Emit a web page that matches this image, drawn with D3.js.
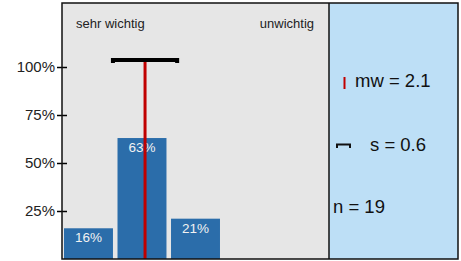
<!DOCTYPE html>
<html>
<head>
<meta charset="utf-8">
<script src="https://cdn.jsdelivr.net/npm/d3@7"></script>
<style>
body { margin: 0; background: #fff; }
svg { display: block; font-family: "Liberation Sans", Arial, sans-serif; }
</style>
</head>
<body>
<svg id="chart"></svg>
<script>
var width = 461, height = 261;

// data
var categories = [1, 2, 3, 4, 5];
var percents = [16, 63, 21, 0, 0];
var yTicks = [25, 50, 75, 100];
var scaleLabels = ["sehr wichtig", "unwichtig"];
var mw = 2.1, sd = 0.6, n = 19;

var panel = {left: 62, right: 329, top: 3, bottom: 259};

var svg = d3.select("#chart").attr("width", width).attr("height", height);

// background panels
svg.append("rect")
    .attr("x", panel.left).attr("y", panel.top)
    .attr("width", panel.right - panel.left).attr("height", panel.bottom - panel.top)
    .attr("fill", "#e6e6e6");
svg.append("rect")
    .attr("x", panel.right).attr("y", panel.top)
    .attr("width", 458 - panel.right).attr("height", panel.bottom - panel.top)
    .attr("fill", "#bddff6");

var x = d3.scaleBand()
    .domain(categories)
    .range([63, 326])
    .paddingInner(0.085)
    .paddingOuter(0);

var y = d3.scaleLinear()
    .domain([0, 100])
    .range([panel.bottom, 67]);

var xVal = d3.scaleLinear()
    .domain([1, 5])
    .range([x(1) + x.bandwidth() / 2, x(5) + x.bandwidth() / 2]);

var shown = categories.filter(function (c, i) { return percents[i] > 0; });

// bars
svg.selectAll(".bar")
    .data(shown)
    .enter().append("rect")
    .attr("class", "bar")
    .attr("x", function (d) { return x(d) + 1; })
    .attr("width", x.bandwidth())
    .attr("y", function (d) { return y(percents[d - 1]); })
    .attr("height", function (d) { return y(0) - y(percents[d - 1]); })
    .attr("fill", "#2b6daa");

svg.selectAll(".barlabel")
    .data(shown)
    .enter().append("text")
    .attr("x", function (d) { return x(d) + 1 + x.bandwidth() / 2; })
    .attr("y", function (d) { return y(percents[d - 1]) + 14; })
    .attr("text-anchor", "middle")
    .attr("font-size", "13.5px")
    .attr("fill", "#f2f2f2")
    .text(function (d) { return percents[d - 1] + "%"; });

// mean line
var shift = -1.3;
var mx = xVal(mw) + shift;
svg.append("line")
    .attr("x1", mx).attr("x2", mx)
    .attr("y1", 61).attr("y2", panel.bottom)
    .attr("stroke", "#c00000")
    .attr("stroke-width", 3);

// standard deviation bracket
var sdY = 60;
svg.append("path")
    .attr("d", "M" + (xVal(mw - sd) + shift) + "," + (sdY + 3) +
        "V" + sdY + "H" + (xVal(mw + sd) + shift) + "V" + (sdY + 3))
    .attr("fill", "none")
    .attr("stroke", "#000")
    .attr("stroke-width", 4);

// y axis
var yAxis = svg.append("g")
    .attr("transform", "translate(67,0)")
    .call(d3.axisLeft(y).tickValues(yTicks).tickSize(10).tickPadding(2)
        .tickFormat(function (d) { return d + "%"; }));
yAxis.select(".domain").remove();
yAxis.selectAll("line").attr("stroke", "#000").attr("stroke-width", 1.5);
yAxis.selectAll("text")
    .attr("font-size", "15px")
    .attr("font-family", "Liberation Sans, Arial, sans-serif")
    .attr("fill", "#222");

// scale labels
svg.append("text")
    .attr("x", 76).attr("y", 28)
    .attr("font-size", "13px").attr("fill", "#222")
    .text(scaleLabels[0]);
svg.append("text")
    .attr("x", 314).attr("y", 28)
    .attr("text-anchor", "end")
    .attr("font-size", "13px").attr("fill", "#222")
    .text(scaleLabels[1]);

// borders
svg.append("rect")
    .attr("x", panel.left).attr("y", panel.top)
    .attr("width", 458 - panel.left).attr("height", panel.bottom - panel.top)
    .attr("fill", "none").attr("stroke", "#111").attr("stroke-width", 1.5);
svg.append("line")
    .attr("x1", panel.right).attr("x2", panel.right)
    .attr("y1", panel.top).attr("y2", panel.bottom)
    .attr("stroke", "#111").attr("stroke-width", 1.5);

// legend panel
svg.append("line")
    .attr("x1", 344.5).attr("x2", 344.5).attr("y1", 77).attr("y2", 89)
    .attr("stroke", "#c00000").attr("stroke-width", 2);
svg.append("text")
    .attr("x", 355).attr("y", 87)
    .attr("font-size", "18.5px").attr("fill", "#111")
    .text("mw = " + mw);

svg.append("path")
    .attr("d", "M337,148V144.5H350V148")
    .attr("fill", "none").attr("stroke", "#111").attr("stroke-width", 2);
svg.append("text")
    .attr("x", 370).attr("y", 151)
    .attr("font-size", "18.5px").attr("fill", "#111")
    .text("s = " + sd);

svg.append("text")
    .attr("x", 333).attr("y", 213)
    .attr("font-size", "18.5px").attr("fill", "#111")
    .text("n = " + n);
</script>
</body>
</html>
